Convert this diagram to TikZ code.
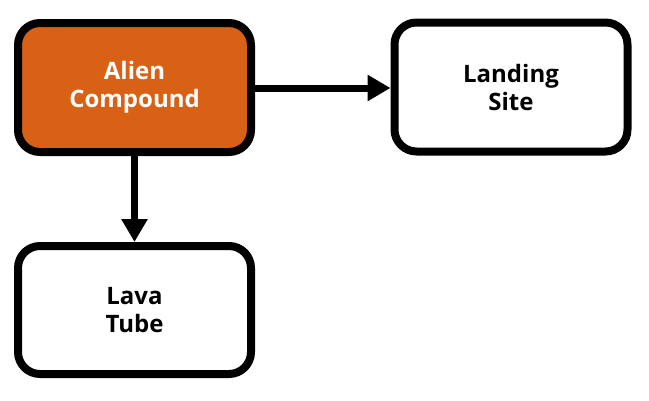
\documentclass[tikz,border=0pt]{standalone}
\usepackage{fontspec}
\setmainfont{Open Sans}
\usetikzlibrary{arrows.meta}
\definecolor{alienorange}{HTML}{D86116}
\tikzset{
  box/.style={draw=black, line width=8pt, rounded corners=22pt, fill=white,
    minimum width=233pt, minimum height=129pt, inner sep=0pt,
    align=center, font=\fontsize{24}{28}\selectfont\bfseries},
  conn/.style={line width=7pt, -{Triangle[length=23pt,width=25pt]}}
}
\begin{document}
\begin{tikzpicture}[x=1pt,y=1pt]
\useasboundingbox (0,0) rectangle (649,-400);
\node[box, fill=alienorange, text=white] (alien) at (134.5,-87.5) {Alien\\Compound};
\node[box] (landing) at (511,-87) {Landing\\Site};
\node[box, minimum height=128pt] (lava) at (134.5,-310) {Lava\\Tube};
\draw[conn] (alien.east |- 0,-88) -- (landing.west |- 0,-88);
\draw[conn] (alien.south) -- (lava.north);
\end{tikzpicture}
\end{document}
